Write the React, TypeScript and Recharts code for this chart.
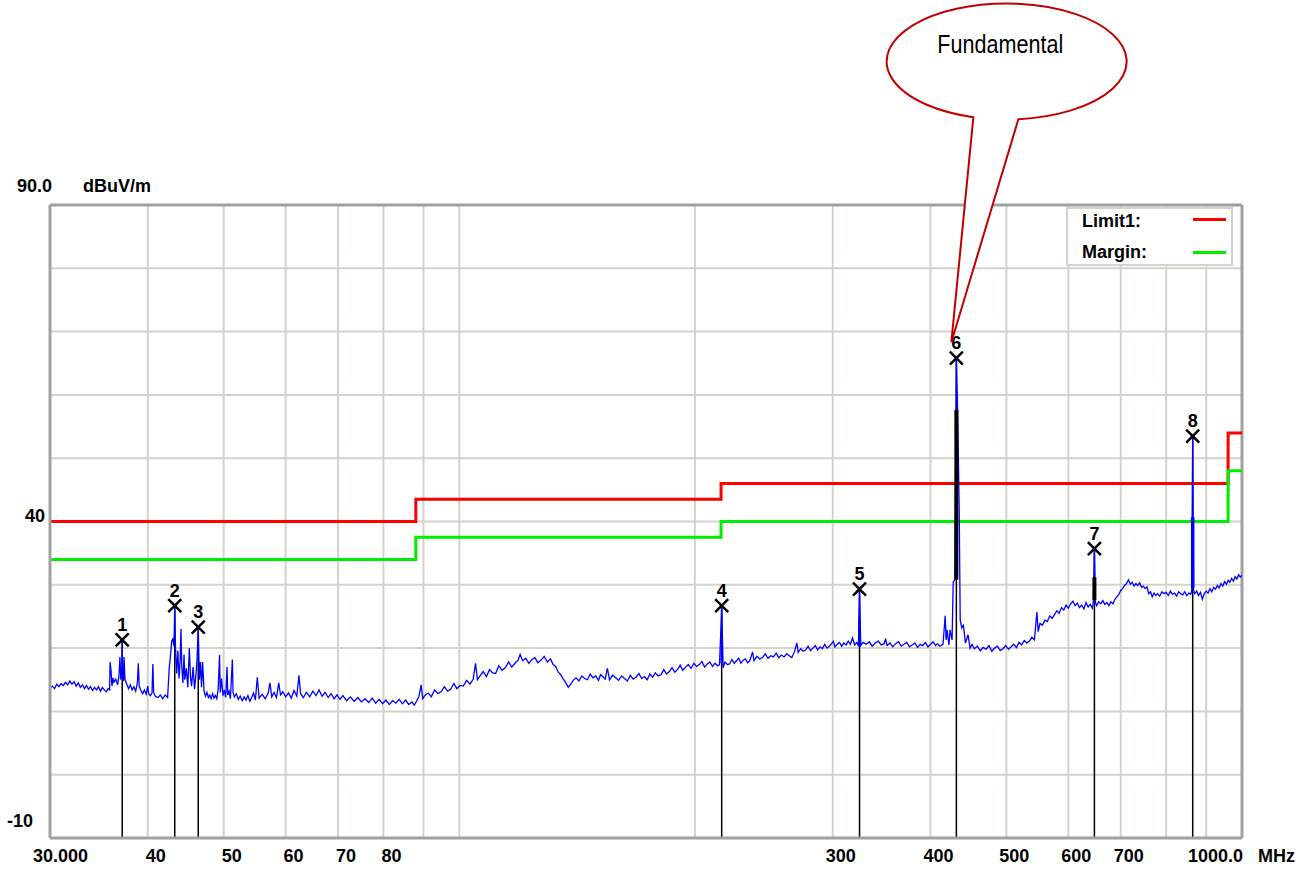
import React from 'react';
import { ComposedChart, Line, Scatter, XAxis, YAxis, ReferenceLine, ReferenceDot } from 'recharts';

const FONT = '"Liberation Sans", Arial, sans-serif';

// Axis ticks
const xTickMHz = [30, 40, 50, 60, 70, 80, 300, 400, 500, 600, 700, 1000];
const xTickText = ['30.000', '40', '50', '60', '70', '80', '300', '400', '500', '600', '700', '1000.0'];
const yTickDb = [-10, 40, 90];
const yTickText = ['-10', '40', '90.0'];

// Grid
const gridMHz = [40, 50, 60, 70, 80, 90, 100, 200, 300, 400, 500, 600, 700, 800, 900];
const gridDb = [0, 10, 20, 30, 40, 50, 60, 70, 80];

// Limit and margin lines
const limitMHz = [30, 88, 88, 216, 216, 960, 960, 1000];
const limitDb = [40, 40, 43.5, 43.5, 46, 46, 54, 54];
const marginDb = [34, 34, 37.5, 37.5, 40, 40, 48, 48];

// Markers
const markerNo = [1, 2, 3, 4, 5, 6, 7, 8];
const markerMHz = [37.1, 43.3, 46.4, 216.4, 324.6, 431.6, 647.8, 865];
const markerDb = [21.3, 26.7, 23.3, 26.7, 29.3, 65.8, 35.7, 53.5];

// Thick segments at the peaks (dense samples)
const peakBarMHz = [216.4, 324.6, 865, 431.6, 647.8];
const peakBarLo = [17.6, 20.3, 29.5, 30.8, 27.6];
const peakBarHi = [21.8, 24.8, 40.7, 57.6, 31.2];
const peakBarColor = ['#0000ff', '#0000ff', '#0000ff', '#000000', '#000000'];
const peakBarWidth = [2.5, 2.5, 3.5, 4, 4];

// Measured trace (MHz, dBuV/m)
const trace: [number, number][] = [
  [30.0, 13.7], [30.2, 14.0], [30.4, 13.6], [30.6, 14.3], [30.8, 13.9], [31.0, 14.4], [31.2, 14.1], [31.4, 14.6],
  [31.6, 14.2], [31.8, 14.8], [32.0, 14.3], [32.2, 14.7], [32.4, 14.0], [32.6, 14.5], [32.8, 13.8], [33.0, 14.2],
  [33.2, 13.6], [33.4, 14.1], [33.6, 13.5], [33.8, 13.9], [34.0, 13.3], [34.2, 13.8], [34.4, 13.4], [34.6, 13.9],
  [34.8, 13.2], [35.0, 13.8], [35.2, 13.4], [35.4, 13.1], [35.6, 13.6], [35.75, 13.4], [35.8, 17.8], [35.9, 16.4],
  [36.0, 14.0], [36.1, 15.3], [36.2, 14.6], [36.4, 15.1], [36.6, 14.2], [36.75, 15.6], [36.85, 18.6], [36.95, 15.0],
  [37.05, 16.0], [37.1, 21.3], [37.15, 15.2], [37.25, 14.8], [37.3, 18.6], [37.4, 15.1], [37.6, 14.3], [37.8, 13.6],
  [38.0, 14.2], [38.2, 13.4], [38.4, 13.9], [38.6, 13.2], [38.8, 14.6], [38.9, 17.6], [39.0, 14.0], [39.2, 13.3],
  [39.4, 12.8], [39.6, 13.4], [39.8, 12.7], [40.0, 14.0], [40.1, 12.8], [40.3, 12.5], [40.5, 12.9], [40.6, 17.5],
  [40.7, 13.0], [40.9, 12.4], [41.2, 12.2], [41.5, 12.6], [41.8, 12.0], [42.1, 12.6], [42.4, 12.2], [42.6, 16.8],
  [42.75, 18.6], [42.9, 21.0], [43.05, 21.4], [43.2, 20.3], [43.3, 26.7], [43.4, 19.8], [43.55, 16.0], [43.7, 19.6],
  [43.85, 15.2], [44.0, 18.2], [44.1, 23.0], [44.2, 17.2], [44.35, 14.5], [44.5, 19.0], [44.6, 15.0], [44.8, 16.8],
  [45.0, 13.8], [45.2, 20.0], [45.35, 15.5], [45.5, 14.0], [45.7, 17.0], [45.9, 13.5], [46.1, 16.0], [46.25, 18.5],
  [46.4, 23.3], [46.55, 15.0], [46.7, 17.8], [46.85, 13.8], [47.0, 17.8], [47.2, 13.2], [47.4, 12.4], [47.6, 13.0],
  [47.8, 12.2], [48.0, 12.6], [48.2, 12.0], [48.4, 12.8], [48.6, 12.1], [48.8, 12.5], [49.0, 12.0], [49.2, 13.5],
  [49.4, 18.9], [49.5, 13.0], [49.7, 15.2], [49.9, 12.5], [50.1, 13.4], [50.3, 12.2], [50.5, 17.0], [50.6, 12.6],
  [50.8, 13.2], [51.0, 12.0], [51.3, 18.2], [51.4, 13.0], [51.6, 12.3], [51.9, 12.8], [52.2, 11.9], [52.5, 12.4],
  [52.8, 11.7], [53.1, 12.3], [53.4, 11.8], [53.7, 12.5], [54.0, 11.6], [54.3, 12.2], [54.6, 12.9], [54.9, 11.8],
  [55.2, 15.4], [55.5, 12.1], [56.0, 12.7], [56.5, 12.0], [57.0, 12.9], [57.3, 14.5], [57.6, 12.3], [58.0, 13.0],
  [58.4, 12.2], [58.8, 14.5], [59.1, 12.6], [59.5, 13.1], [60.0, 12.3], [60.5, 12.9], [61.0, 12.1], [61.5, 13.3],
  [62.0, 12.4], [62.4, 15.7], [62.7, 12.8], [63.2, 12.2], [63.8, 13.0], [64.4, 12.3], [65.0, 13.2], [65.6, 12.5],
  [66.2, 13.4], [66.8, 12.4], [67.4, 13.0], [68.0, 12.2], [68.6, 12.8], [69.2, 12.0], [69.8, 12.6], [70.4, 11.9],
  [71.0, 12.5], [71.8, 11.7], [72.6, 12.3], [73.4, 11.6], [74.2, 12.2], [75.0, 11.5], [75.8, 12.0], [76.6, 11.4],
  [77.4, 12.1], [78.2, 11.3], [79.0, 11.9], [79.8, 11.2], [80.6, 11.8], [81.4, 11.1], [82.2, 11.7], [83.0, 11.3],
  [83.8, 11.9], [84.6, 11.2], [85.4, 11.8], [86.2, 11.1], [87.0, 11.5], [87.6, 11.0], [88.2, 11.6], [88.8, 12.4],
  [89.4, 14.2], [89.8, 12.0], [90.5, 12.6], [91.3, 12.9], [92.1, 12.3], [93.0, 13.4], [93.9, 12.8], [94.8, 13.1],
  [95.7, 13.9], [96.6, 13.2], [97.5, 13.5], [98.4, 14.4], [99.3, 13.6], [100.2, 14.1], [101.2, 14.0], [102.2, 14.9],
  [103.2, 14.3], [104.2, 15.1], [104.9, 17.6], [105.5, 15.0], [106.3, 15.6], [107.3, 16.3], [108.3, 15.5], [109.3, 16.6],
  [110.3, 16.1], [111.3, 16.0], [112.3, 17.2], [113.4, 16.5], [114.5, 16.9], [115.6, 17.8], [116.7, 17.0], [117.8, 17.6],
  [118.9, 18.1], [119.6, 19.0], [120.5, 18.0], [121.6, 18.4], [122.7, 17.6], [123.8, 18.2], [124.9, 18.5], [126.0, 17.7],
  [127.2, 18.1], [128.4, 18.7], [129.6, 17.8], [130.8, 18.3], [131.8, 17.4], [132.8, 17.1], [133.8, 16.2], [134.8, 15.8],
  [135.8, 15.1], [136.8, 14.5], [137.8, 13.8], [138.8, 14.3], [139.8, 14.9], [141.0, 15.3], [142.2, 14.8], [143.4, 15.6],
  [144.6, 15.2], [145.8, 15.0], [147.0, 15.9], [148.2, 15.3], [149.4, 15.6], [150.6, 14.9], [151.5, 15.8], [152.5, 15.5],
  [153.6, 15.1], [154.6, 16.8], [155.6, 15.0], [157.0, 15.7], [158.4, 15.3], [159.8, 14.9], [161.2, 15.6], [162.6, 15.2],
  [164.0, 14.8], [165.4, 15.7], [166.8, 15.1], [168.2, 15.4], [169.6, 16.0], [171.0, 15.2], [172.4, 15.5], [173.8, 15.0],
  [175.2, 15.9], [176.6, 15.4], [178.0, 16.1], [179.5, 15.6], [181.0, 15.8], [182.5, 16.6], [184.0, 15.9], [185.5, 16.3],
  [187.0, 16.9], [188.5, 16.2], [190.0, 16.6], [191.5, 17.3], [193.0, 16.5], [194.6, 17.0], [196.2, 17.4], [197.8, 16.8],
  [199.4, 17.6], [201.0, 17.1], [202.6, 17.4], [204.2, 17.9], [205.8, 17.0], [207.4, 17.5], [209.0, 17.8], [210.6, 17.1],
  [212.2, 17.6], [213.8, 17.2], [215.0, 17.4], [215.7, 21.8], [216.4, 26.7], [216.9, 21.6], [217.3, 16.9], [218.5, 17.8],
  [220.0, 17.4], [221.5, 17.5], [223.0, 18.2], [224.5, 17.6], [226.0, 18.0], [227.5, 18.4], [229.0, 17.6], [230.5, 18.1],
  [232.0, 18.3], [233.5, 17.7], [235.0, 18.0], [237.0, 19.4], [238.0, 18.0], [240.0, 18.7], [242.0, 18.3], [244.0, 18.5],
  [246.0, 19.1], [248.0, 18.4], [250.0, 18.8], [252.0, 18.6], [254.0, 19.2], [256.0, 18.5], [258.0, 18.9], [260.0, 18.6],
  [262.0, 19.1], [264.0, 18.8], [266.0, 18.5], [268.0, 19.4], [270.0, 20.8], [271.0, 19.3], [273.0, 19.9], [275.0, 19.5],
  [277.0, 19.7], [279.0, 20.3], [281.0, 19.6], [283.0, 20.0], [285.0, 20.4], [287.0, 19.7], [289.0, 20.2], [291.0, 19.9],
  [293.0, 20.6], [295.0, 20.0], [297.0, 20.3], [299.0, 20.7], [300.5, 21.1], [302.0, 20.2], [304.0, 20.6], [306.0, 20.9],
  [308.0, 20.3], [310.0, 20.8], [312.0, 20.5], [314.0, 21.1], [316.0, 20.6], [318.0, 21.6], [320.0, 20.5], [322.0, 20.9],
  [323.6, 20.3], [324.0, 24.8], [324.6, 29.3], [325.2, 24.6], [325.8, 20.4], [328.0, 20.9], [331.0, 20.6], [334.0, 21.0],
  [337.0, 20.3], [340.0, 20.8], [343.0, 21.1], [346.0, 20.5], [349.0, 20.7], [350.5, 21.5], [352.0, 20.4], [355.0, 20.8],
  [358.0, 20.2], [361.0, 20.7], [364.0, 21.0], [367.0, 20.3], [370.0, 20.6], [373.0, 20.9], [376.0, 20.2], [379.0, 20.5],
  [382.0, 20.8], [385.0, 20.1], [388.0, 20.6], [391.0, 20.4], [394.0, 20.9], [397.0, 20.2], [400.0, 20.6], [403.0, 21.0],
  [406.0, 20.4], [408.0, 20.7], [411.0, 20.3], [415.0, 20.6], [417.6, 25.1], [418.8, 21.3], [419.9, 22.9], [422.3, 20.5],
  [423.6, 22.9], [426.2, 21.3], [427.6, 30.4], [429.6, 30.8], [431.6, 65.8], [433.2, 57.6], [435.2, 41.8], [436.5, 24.4],
  [438.5, 23.2], [440.6, 23.6], [443.3, 20.8], [446.7, 22.1], [449.4, 20.0], [452.0, 20.6], [455.0, 19.9], [459.0, 20.3],
  [463.0, 19.6], [467.0, 20.1], [471.0, 19.8], [475.0, 20.4], [479.0, 19.5], [483.0, 20.0], [487.0, 20.3], [491.0, 19.6],
  [495.0, 19.9], [499.0, 20.4], [503.0, 19.8], [507.0, 20.2], [511.0, 20.6], [515.0, 20.1], [519.0, 20.9], [523.0, 20.5],
  [527.0, 21.2], [531.0, 20.8], [535.0, 21.1], [539.0, 21.7], [543.0, 21.3], [547.0, 25.7], [549.0, 22.6], [552.0, 23.9],
  [556.0, 23.6], [560.0, 24.4], [564.0, 24.2], [568.0, 25.1], [572.0, 24.7], [576.0, 25.3], [580.0, 25.9], [584.0, 25.5],
  [588.0, 26.4], [592.0, 26.0], [596.0, 26.8], [600.0, 26.3], [604.0, 27.0], [608.0, 27.4], [612.0, 26.7], [616.0, 27.1],
  [620.0, 26.4], [624.0, 26.8], [628.0, 26.2], [632.0, 27.2], [636.0, 26.5], [640.0, 26.9], [644.0, 26.3], [645.8, 27.4],
  [647.8, 35.7], [649.8, 27.2], [652.0, 26.7], [656.0, 27.3], [660.0, 27.0], [664.0, 27.5], [668.0, 26.9], [672.0, 27.2],
  [676.0, 26.7], [680.0, 27.3], [684.0, 27.0], [688.0, 27.7], [692.0, 28.1], [696.0, 28.5], [700.0, 29.1], [704.0, 29.4],
  [708.0, 29.9], [712.0, 30.2], [716.0, 30.8], [720.0, 30.1], [724.0, 30.4], [728.0, 29.8], [732.0, 30.2], [736.0, 29.9],
  [740.0, 30.3], [744.0, 29.6], [748.0, 29.8], [752.0, 29.4], [756.0, 29.7], [760.0, 28.6], [764.0, 28.9], [768.0, 28.1],
  [772.0, 28.7], [776.0, 28.3], [780.0, 28.6], [785.0, 28.2], [790.0, 28.9], [795.0, 28.6], [800.0, 28.8], [805.0, 28.3],
  [810.0, 29.0], [815.0, 28.5], [820.0, 28.7], [825.0, 28.2], [830.0, 28.9], [835.0, 28.6], [840.0, 28.4], [845.0, 28.9],
  [850.0, 28.3], [855.0, 28.7], [860.0, 28.5], [862.5, 29.0], [863.7, 40.7], [865.0, 53.5], [866.2, 40.5], [867.3, 29.2],
  [870.0, 28.6], [875.0, 29.0], [880.0, 28.3], [885.0, 28.8], [890.0, 27.7], [895.0, 28.6], [900.0, 29.0], [905.0, 28.7],
  [910.0, 29.4], [915.0, 28.9], [920.0, 29.6], [925.0, 29.3], [930.0, 29.9], [935.0, 29.5], [940.0, 30.2], [945.0, 29.8],
  [950.0, 30.5], [955.0, 30.1], [960.0, 30.7], [965.0, 30.4], [970.0, 31.0], [975.0, 30.6], [980.0, 31.3], [985.0, 30.9],
  [990.0, 31.6], [995.0, 31.2], [1000.0, 31.5],
];

const traceData = trace.map(([f, v]) => ({ f, v }));
const limitData = limitMHz.map((f, i) => ({ f, v: limitDb[i] }));
const marginData = limitMHz.map((f, i) => ({ f, v: marginDb[i] }));
const markerData = markerMHz.map((f, i) => ({ f, v: markerDb[i], n: markerNo[i] }));

const GRID = '#d6d2ca';
const FRAME = '#a0a0a0';

function XTick(props: any) {
  const { x, y, payload } = props;
  const i = xTickMHz.indexOf(payload.value);
  const last = xTickMHz.length - 1;
  let anchor = 'middle';
  let dx = 8;
  if (i === 0) { anchor = 'start'; dx = -17; }
  if (i === last) { anchor = 'end'; dx = 1; }
  return (
    <g>
      <text x={x + dx} y={y + 24} textAnchor={anchor} fontFamily={FONT} fontWeight="bold" fontSize={18} fill="#000">
        {xTickText[i]}
      </text>
      {i === last ? (
        <text x={x + 16} y={y + 24} textAnchor="start" fontFamily={FONT} fontWeight="bold" fontSize={18} fill="#000">MHz</text>
      ) : null}
    </g>
  );
}

function YTick(props: any) {
  const { x, y, payload } = props;
  const i = yTickDb.indexOf(payload.value);
  if (payload.value === 90) {
    return (
      <g>
        <text x={17} y={y - 13} textAnchor="start" fontFamily={FONT} fontWeight="bold" fontSize={18} fill="#000">{yTickText[i]}</text>
        <text x={83} y={y - 13} textAnchor="start" fontFamily={FONT} fontWeight="bold" fontSize={18} fill="#000">dBuV/m</text>
      </g>
    );
  }
  const isBottom = payload.value === -10;
  return (
    <text x={isBottom ? x - 17 : x - 5} y={isBottom ? y - 11 : y} textAnchor="end" fontFamily={FONT} fontWeight="bold" fontSize={18} fill="#000">{yTickText[i]}</text>
  );
}

function MarkerShape(props: any) {
  const { cx, cy, payload } = props;
  const h = 6.5;
  return (
    <g>
      <line x1={cx - h} y1={cy - h} x2={cx + h} y2={cy + h} stroke="#000" strokeWidth={2.5} />
      <line x1={cx - h} y1={cy + h} x2={cx + h} y2={cy - h} stroke="#000" strokeWidth={2.5} />
      <text x={cx} y={cy - 9} textAnchor="middle" fontFamily={FONT} fontWeight="bold" fontSize={18} fill="#000">{payload.n}</text>
    </g>
  );
}

function Callout(props: any) {
  const { cx, cy } = props;
  const ex = cx + 50;
  const ey = cy - 297;
  const rx = 120;
  const ry = 58;
  const ax = ex - 33;
  const ay = ey + 56;
  const bx = ex + 12;
  const by = ey + 58;
  const tx = cx - 5;
  const ty = cy - 16;
  const d = `M ${ax} ${ay} A ${rx} ${ry} 0 1 1 ${bx} ${by} L ${tx} ${ty} Z`;
  return (
    <g>
      <path d={d} fill="#fff" stroke="#c00000" strokeWidth={2} strokeLinejoin="miter" />
      <text x={cx + 44} y={cy - 305} textAnchor="middle" fontFamily={FONT} fontSize={26} textLength={126} lengthAdjust="spacingAndGlyphs" fill="#000">Fundamental</text>
    </g>
  );
}

export default function App() {
  return (
    <div style={{ position: 'absolute', left: 0, top: 0, width: 1308, height: 870, background: '#fff' }}>
      <ComposedChart width={1308} height={870} margin={{ top: 205, right: 66, bottom: 0, left: 0 }}>
        <XAxis
          dataKey="f"
          type="number"
          scale="log"
          domain={[30, 1000]}
          allowDataOverflow
          ticks={xTickMHz}
          interval={0}
          tick={<XTick />}
          tickLine={false}
          tickSize={0}
          tickMargin={0}
          height={32}
          axisLine={{ stroke: FRAME, strokeWidth: 3 }}
        />
        <YAxis
          type="number"
          domain={[-10, 90]}
          allowDataOverflow
          ticks={yTickDb}
          interval={0}
          tick={<YTick />}
          tickLine={false}
          tickSize={0}
          tickMargin={0}
          width={50}
          axisLine={{ stroke: FRAME, strokeWidth: 3 }}
        />
        {gridDb.map((v) => (
          <ReferenceLine key={'gy' + v} y={v} stroke={GRID} strokeWidth={2} />
        ))}
        {gridMHz.map((f) => (
          <ReferenceLine key={'gx' + f} x={f} stroke={GRID} strokeWidth={2} />
        ))}
        <ReferenceLine y={90} stroke={FRAME} strokeWidth={3} />
        <ReferenceLine x={1000} stroke={FRAME} strokeWidth={3} />
        {markerData.map((m) => (
          <ReferenceLine
            key={'drop' + m.n}
            segment={[{ x: m.f, y: -10 }, { x: m.f, y: m.v }]}
            stroke="#000"
            strokeWidth={1.5}
          />
        ))}
        <Line data={limitData} dataKey="v" type="linear" stroke="#ff0000" strokeWidth={3} dot={false} isAnimationActive={false} />
        <Line data={marginData} dataKey="v" type="linear" stroke="#00ee00" strokeWidth={3} dot={false} isAnimationActive={false} />
        <Line data={traceData} dataKey="v" type="linear" stroke="#0000ff" strokeWidth={1.3} dot={false} isAnimationActive={false} />
        {peakBarMHz.map((f, i) => (
          <ReferenceLine
            key={'pb' + i}
            segment={[{ x: f, y: peakBarLo[i] }, { x: f, y: peakBarHi[i] }]}
            stroke={peakBarColor[i]}
            strokeWidth={peakBarWidth[i]}
          />
        ))}
        <Scatter data={markerData} dataKey="v" shape={<MarkerShape />} isAnimationActive={false} />
        <ReferenceDot x={markerMHz[5]} y={markerDb[5]} shape={<Callout />} ifOverflow="visible" />
      </ComposedChart>
      <svg width={1308} height={870} style={{ position: 'absolute', left: 0, top: 0, pointerEvents: 'none' }}>
        <rect x={1067} y={208} width={165} height={57} fill="#fff" stroke={GRID} strokeWidth={2} />
        <text x={1082} y={227} fontFamily={FONT} fontWeight="bold" fontSize={18} fill="#000">Limit1:</text>
        <text x={1082} y={258} fontFamily={FONT} fontWeight="bold" fontSize={18} fill="#000">Margin:</text>
        <line x1={1193} y1={219.5} x2={1226} y2={219.5} stroke="#ff0000" strokeWidth={3} />
        <line x1={1193} y1={252.5} x2={1226} y2={252.5} stroke="#00ee00" strokeWidth={3} />
      </svg>
    </div>
  );
}
